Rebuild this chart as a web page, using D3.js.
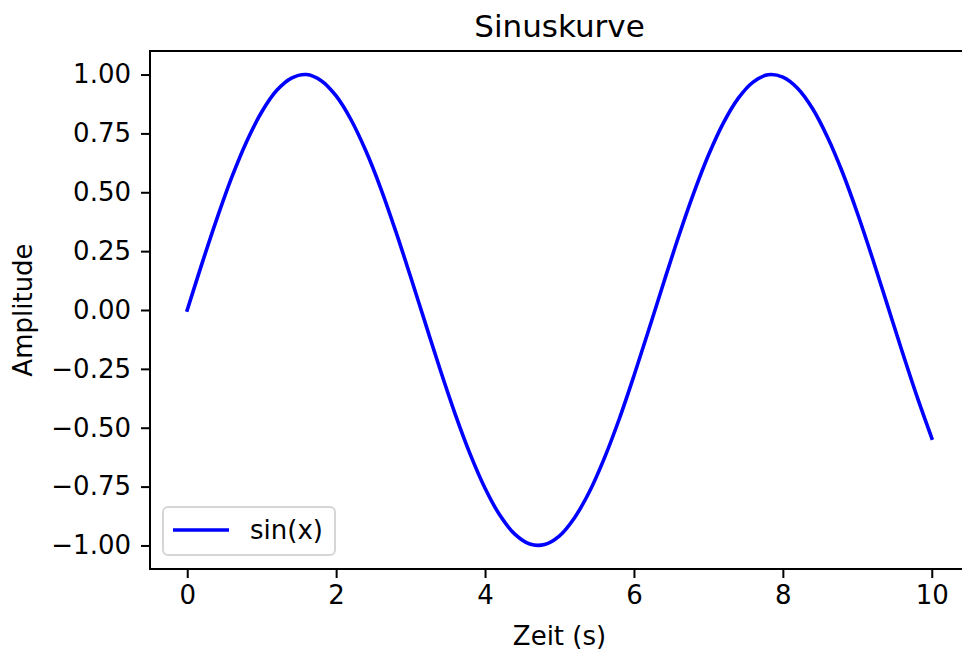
<!DOCTYPE html>
<html><head><meta charset="utf-8">
<script src="https://cdn.jsdelivr.net/npm/d3@7"></script>
<style>body{margin:0;background:#fff}svg{display:block}text{font-family:"DejaVu Sans",sans-serif;fill:#000}</style>
</head><body>
<svg id="c" width="962" height="655"></svg>
<script>
const xValues = [0,0.2,0.4,0.6,0.8,1.0,1.2,1.4,1.6,1.8,2.0,2.2,2.4,2.6,2.8,3.0,3.2,3.4,3.6,3.8,4.0,4.2,4.4,4.6,4.8,5.0,5.2,5.4,5.6,5.8,6.0,6.2,6.4,6.6,6.8,7.0,7.2,7.4,7.6,7.8,8.0,8.2,8.4,8.6,8.8,9.0,9.2,9.4,9.6,9.8,10.0];
const yValues = [0.000,0.199,0.389,0.565,0.717,0.841,0.932,0.985,1.000,0.974,0.909,0.808,0.675,0.516,0.335,0.141,-0.058,-0.256,-0.443,-0.612,-0.757,-0.872,-0.952,-0.994,-0.996,-0.959,-0.883,-0.773,-0.631,-0.465,-0.279,-0.083,0.117,0.312,0.494,0.657,0.794,0.899,0.968,0.999,0.989,0.941,0.855,0.734,0.585,0.412,0.223,0.025,-0.174,-0.366,-0.544];
const xTicks = [0,2,4,6,8,10];
const yTicks = [-1.00,-0.75,-0.50,-0.25,0.00,0.25,0.50,0.75,1.00];
const title = "Sinuskurve", xLabel = "Zeit (s)", yLabel = "Amplitude", seriesName = "sin(x)";

const svg = d3.select("#c");
const L = 150, R = 969, T = 51, B = 569;
const x = d3.scaleLinear().domain([-0.5, 10.5]).range([L, R]);
const y = d3.scaleLinear().domain([-1.1, 1.1]).range([B, T]);

const line = d3.line().x((d,i)=>x(xValues[i])).y(d=>y(d)).curve(d3.curveCatmullRom);
svg.append("path").datum(yValues).attr("d", line)
  .attr("fill","none").attr("stroke","#0000ff").attr("stroke-width",3.6).attr("stroke-linejoin","round").attr("stroke-linecap","square");

const xa = svg.append("g").attr("transform",`translate(0,${B})`)
  .call(d3.axisBottom(x).tickValues(xTicks).tickFormat(d3.format("d")).tickSize(9).tickPadding(8));
const ya = svg.append("g").attr("transform",`translate(${L},0)`)
  .call(d3.axisLeft(y).tickValues(yTicks).tickFormat(d3.format(".2f")).tickSize(9).tickPadding(10));
[xa,ya].forEach(a=>{
  a.select(".domain").remove();
  a.selectAll(".tick line").attr("stroke","#000").attr("stroke-width",2);
  a.selectAll(".tick text").style("font-size","26px").style("font-family","DejaVu Sans");
});

svg.append("rect").attr("x",L).attr("y",T).attr("width",R-L).attr("height",B-T)
  .attr("fill","none").attr("stroke","#000").attr("stroke-width",2);

svg.append("text").attr("x",(L+R)/2).attr("y",37).attr("text-anchor","middle").style("font-size","31px").text(title);
svg.append("text").attr("x",(L+R)/2).attr("y",645).attr("text-anchor","middle").style("font-size","26px").text(xLabel);
svg.append("text").attr("transform",`translate(32,${(T+B)/2}) rotate(-90)`).attr("text-anchor","middle").style("font-size","26px").text(yLabel);

const lg = svg.append("g");
lg.append("rect").attr("x",163).attr("y",507).attr("width",172).attr("height",48).attr("rx",5)
  .attr("fill","#fff").attr("fill-opacity",0.8).attr("stroke","#d6d6d6").attr("stroke-width",2);
lg.append("line").attr("x1",173).attr("x2",229).attr("y1",530).attr("y2",530).attr("stroke","#0000ff").attr("stroke-width",3.6);
lg.append("text").attr("x",250).attr("y",539).style("font-size","26px").text(seriesName);
</script>
</body></html>
